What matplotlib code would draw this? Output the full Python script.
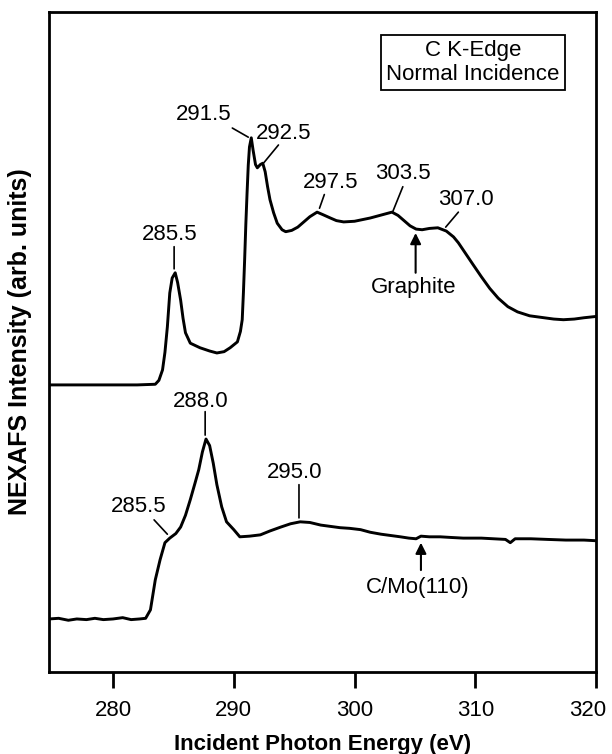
import matplotlib
matplotlib.use("Agg")
import matplotlib.pyplot as plt
import matplotlib.transforms as mtransforms

plt.rcParams['font.family'] = ['Liberation Sans', 'DejaVu Sans']

# Graphite spectrum (photon energy in eV, intensity in arb. units)
graphite_ev = [274.7, 276.0, 278.0, 280.0, 282.0, 283.5, 283.8, 284.1, 284.3, 284.5,
               284.7, 284.9, 285.15, 285.35, 285.6, 285.8, 286.0, 286.4, 287.2, 288.0,
               288.6, 289.2, 289.7, 290.3, 290.55, 290.7, 290.8, 290.9, 291.0, 291.1,
               291.2, 291.3, 291.45, 291.6, 291.8, 291.95, 292.2, 292.4, 292.6, 292.8,
               293.0, 293.3, 293.6, 294.0, 294.3, 294.8, 295.3, 295.8, 296.3, 296.9,
               297.4, 298.0, 298.5, 299.1, 300.0, 301.3, 302.3, 303.1, 303.6, 304.1,
               304.6, 305.1, 305.6, 306.2, 306.9, 307.6, 308.2, 308.6, 309.0, 309.8,
               310.5, 311.2, 311.9, 312.7, 313.5, 314.5, 315.7, 316.5, 317.3, 318.2,
               319.0, 320.0]
graphite_int = [42.8, 42.8, 42.8, 42.8, 42.8, 42.9, 43.5, 45.1, 47.8, 51.7,
                56.9, 59.2, 60.0, 58.5, 55.8, 53.0, 50.8, 49.2, 48.5, 48.0,
                47.7, 47.9, 48.5, 49.4, 51.0, 52.8, 57.0, 62.0, 67.5, 72.2,
                76.5, 79.3, 80.7, 78.8, 76.6, 76.1, 76.6, 76.8, 75.5, 73.2,
                71.2, 69.2, 67.6, 66.6, 66.3, 66.5, 67.0, 67.8, 68.6, 69.3,
                68.9, 68.4, 68.0, 67.8, 67.9, 68.4, 68.9, 69.3, 68.8, 68.0,
                67.2, 66.7, 66.6, 66.8, 66.9, 66.4, 65.5, 64.6, 63.5, 61.3,
                59.4, 57.6, 56.1, 54.8, 54.0, 53.4, 53.1, 52.9, 52.8, 52.9,
                53.1, 53.3]

# C/Mo(110) spectrum
cmo_ev = [274.7, 275.5, 276.3, 277.0, 277.8, 278.5, 279.2, 280.0, 280.8, 281.5,
          282.2, 282.7, 283.1, 283.5, 283.9, 284.3, 284.7, 285.2, 285.6, 286.0,
          286.4, 286.8, 287.1, 287.4, 287.7, 288.0, 288.3, 288.6, 289.0, 289.4,
          290.0, 290.5, 291.3, 292.2, 293.0, 293.9, 294.7, 295.5, 296.3, 297.2,
          298.0, 298.8, 299.6, 300.5, 301.3, 302.2, 303.0, 303.8, 304.5, 305.1,
          305.5, 306.2, 307.1, 308.0, 309.0, 310.5, 311.5, 312.5, 312.9, 313.3,
          314.6, 316.0, 317.5, 319.0, 320.0]
cmo_int = [6.9, 7.0, 6.7, 6.9, 6.8, 7.0, 6.8, 6.9, 7.1, 6.8,
           6.9, 7.0, 8.3, 12.9, 16.0, 18.6, 19.3, 20.0, 21.0, 22.8,
           25.2, 27.8, 29.8, 32.5, 34.5, 33.5, 30.8, 27.5, 24.1, 21.8,
           20.6, 19.5, 19.6, 19.8, 20.4, 21.0, 21.5, 21.8, 21.7, 21.3,
           21.1, 20.9, 20.8, 20.6, 20.2, 19.9, 19.7, 19.5, 19.3, 19.2,
           19.6, 19.5, 19.5, 19.4, 19.3, 19.3, 19.2, 19.1, 18.6, 19.2,
           19.2, 19.1, 19.0, 19.0, 18.9]

# peak labels: text, label position, leader line start, leader line end
peak_labels = [
    ("285.5", (284.73, 65.8), (285.06, 64.0), (285.06, 60.6)),
    ("291.5", (287.55, 84.2), (289.88, 82.2), (291.2, 80.8)),
    ("292.5", (294.1, 81.4), (293.7, 79.6), (292.5, 76.9)),
    ("297.5", (298.0, 73.9), (297.5, 72.0), (297.1, 69.9)),
    ("303.5", (304.0, 75.3), (304.0, 73.2), (303.15, 69.3)),
    ("307.0", (309.2, 71.3), (308.6, 69.3), (307.55, 67.0)),
    ("285.5", (282.16, 24.1), (283.4, 22.1), (284.5, 19.9)),
    ("288.0", (287.3, 40.3), (287.63, 38.7), (287.63, 35.1)),
    ("295.0", (295.0, 29.4), (295.4, 27.5), (295.4, 22.4)),
]

# sample labels with arrows: text, text position, arrow start, arrow tip
sample_labels = [
    ("Graphite", (304.9, 57.8), (305.06, 60.0), (305.06, 66.1)),
    ("C/Mo(110)", (305.2, 11.8), (305.5, 14.4), (305.5, 18.6)),
]

fig, ax = plt.subplots(figsize=(6.12, 7.54), dpi=100)
fig.subplots_adjust(left=0.0801, right=0.9739, top=0.9841, bottom=0.1088)

ax.plot(graphite_ev, graphite_int, color="black", lw=2.1)
ax.plot(cmo_ev, cmo_int, color="black", lw=2.1)

for txt, pos, start, end in peak_labels:
    ax.text(pos[0], pos[1], txt, ha="center", va="center", fontsize=16)
    ax.annotate("", xy=end, xytext=start,
                arrowprops=dict(arrowstyle="-", lw=1.2, color="black", shrinkA=0, shrinkB=0))

for txt, pos, start, end in sample_labels:
    ax.text(pos[0], pos[1], txt, ha="center", va="center", fontsize=16)
    ax.annotate("", xy=end, xytext=start,
                arrowprops=dict(arrowstyle="-|>", lw=1.5, color="black", mutation_scale=16,
                                shrinkA=0, shrinkB=0))

ax.text(0.775, 0.923, "C K-Edge\nNormal Incidence", transform=ax.transAxes,
        ha="center", va="center", multialignment="center", fontsize=16,
        bbox=dict(boxstyle="square,pad=0.22", fc="white", ec="black", lw=1.3))

ax.set_xlim(274.7, 320)
ax.set_ylim(-1.23, 100)
ax.set_xticks([280, 290, 300, 310, 320])
ax.set_yticks([])
ax.tick_params(axis="x", direction="out", length=11.5, width=2, pad=9, labelsize=16)
for s in ax.spines.values():
    s.set_linewidth(2)

# last tick label sits against the right edge, nudge it inward a little
last = ax.get_xticklabels()[-1]
last.set_transform(last.get_transform() + mtransforms.ScaledTranslation(-6 / 72, 0, fig.dpi_scale_trans))

ax.set_xlabel("Incident Photon Energy (eV)", fontsize=16, fontweight="bold", labelpad=9)
ax.set_ylabel("NEXAFS Intensity (arb. units)", fontsize=18, fontweight="bold")
ax.yaxis.set_label_coords(-0.031, 0.5)

fig.savefig("out.png", dpi=100)
